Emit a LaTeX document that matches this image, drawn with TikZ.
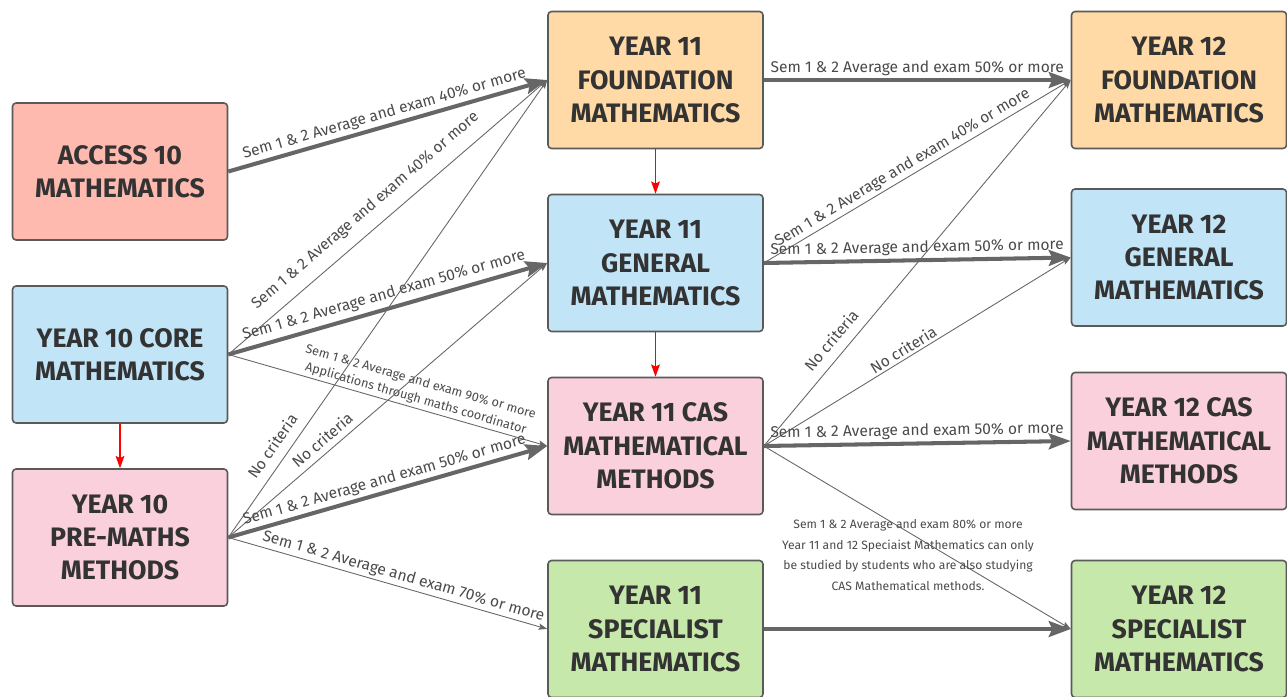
\documentclass[tikz,border=0pt]{standalone}
\usepackage{fontspec}
\setmainfont{Fira Sans}
\usepackage{tikz}
\usetikzlibrary{arrows.meta}
\usetikzlibrary{shapes,calc}
\definecolor{salmonF}{HTML}{FFBAB0}
\definecolor{orangeF}{HTML}{FFDAA6}
\definecolor{blueF}{HTML}{C1E4F6}
\definecolor{pinkF}{HTML}{FAD0DC}
\definecolor{greenF}{HTML}{C6E8AA}
\definecolor{boxLine}{HTML}{5A5A5A}
\definecolor{boxText}{HTML}{333333}
\definecolor{edgeGray}{HTML}{666666}
\definecolor{labText}{HTML}{4A4A4A}
\tikzstyle{box}=[rectangle, draw=boxLine, line width=0.9pt, rounded corners=2pt, minimum width=4.3cm, minimum height=2.74cm, inner sep=0pt, align=center, text=boxText, font=\fontsize{15.2}{19}\selectfont\bfseries]
\tikzstyle{salmonB}=[box, fill=salmonF]
\tikzstyle{orangeB}=[box, fill=orangeF]
\tikzstyle{blueB}=[box, fill=blueF]
\tikzstyle{pinkB}=[box, fill=pinkF]
\tikzstyle{greenB}=[box, fill=greenF]
\tikzstyle{edgeT}=[-{Stealth[length=12.5pt, width=9pt, inset=2pt]}, line width=2.3pt, draw=edgeGray]
\tikzstyle{edgeN}=[-{Stealth[length=5pt, width=3.6pt, inset=1pt]}, line width=0.5pt, draw=edgeGray]
\tikzstyle{edgeR}=[-{Stealth[length=7pt, width=5pt, inset=1.2pt]}, line width=0.7pt, draw=red]
\tikzstyle{lab}=[sloped, inner sep=1.5pt, text=labText, font=\fontsize{8.85}{10}\selectfont]
\tikzstyle{labS}=[lab, align=center, font=\fontsize{7.2}{9.8}\selectfont]

\begin{document}
\begin{tikzpicture}[x=0.02cm, y=-0.02cm]
      \useasboundingbox (0,0) rectangle (1287,696);
      % year 10
      \node(acc) [salmonB] at (120, 171.5){ACCESS 10\\MATHEMATICS};
      \node(core) [blueB] at (120, 354.5){YEAR 10 CORE\\MATHEMATICS};
      \node(pre) [pinkB] at (120, 537.5){YEAR 10\\PRE-MATHS\\METHODS};
      % year 11
      \node(f11) [orangeB] at (655.5, 80){YEAR 11\\FOUNDATION\\MATHEMATICS};
      \node(g11) [blueB] at (655.5, 263){YEAR 11\\GENERAL\\MATHEMATICS};
      \node(cas11) [pinkB] at (655.5, 446){YEAR 11 CAS\\MATHEMATICAL\\METHODS};
      \node(sp11) [greenB] at (655.5, 629){YEAR 11\\SPECIALIST\\MATHEMATICS};
      % year 12
      \node(f12) [orangeB] at (1179, 80){YEAR 12\\FOUNDATION\\MATHEMATICS};
      \node(g12) [blueB] at (1179, 257.5){YEAR 12\\GENERAL\\MATHEMATICS};
      \node(cas12) [pinkB] at (1179, 441){YEAR 12 CAS\\MATHEMATICAL\\METHODS};
      \node(sp12) [greenB] at (1179, 629){YEAR 12\\SPECIALIST\\MATHEMATICS};
      \draw[edgeR] (core) to (pre);
      \draw[edgeR] (f11) to (g11);
      \draw[edgeR] (g11) to (cas11);
      % year 10 to year 11
      \draw[edgeT] (acc.east) to node[lab, above, pos=0.5]{Sem 1 \& 2 Average and exam 40\% or more} (f11.west);
      \draw[edgeN] (core.east) to node[lab, above=5pt, pos=0.47]{Sem 1 \& 2 Average and exam 40\% or more} (f11.west);
      \draw[edgeT] (core.east) to node[lab, above=1pt, pos=0.5]{Sem 1 \& 2 Average and exam 50\% or more} (g11.west);
      \draw[edgeN] (core.east) to node[labS, above, pos=0.58]{Sem 1 \& 2 Average and exam 90\% or more\\Applications through maths coordinator} (cas11.west);
      \draw[edgeN] (pre.east) to node[lab, above=4pt, pos=0.18]{No criteria} (f11.west);
      \draw[edgeN] (pre.east) to node[lab, above=2pt, pos=0.32]{No criteria} (g11.west);
      \draw[edgeT] (pre.east) to node[lab, above, pos=0.5]{Sem 1 \& 2 Average and exam 50\% or more} (cas11.west);
      \draw[edgeN] (pre.east) to node[lab, above, pos=0.54]{Sem 1 \& 2 Average and exam 70\% or more} (sp11.west);
      % year 11 to year 12
      \draw[edgeT] (f11.east) to node[lab, above, pos=0.5]{Sem 1 \& 2 Average and exam 50\% or more} (f12.west);
      \draw[edgeN] (g11.east) to node[lab, above, pos=0.47]{Sem 1 \& 2 Average and exam 40\% or more} (f12.west);
      \draw[edgeT] (g11.east) to node[lab, above, pos=0.5]{Sem 1 \& 2 Average and exam 50\% or more} (g12.west);
      \draw[edgeN] (cas11.east) to node[lab, above=4pt, pos=0.26]{No criteria} (f12.west);
      \draw[edgeN] (cas11.east) to node[lab, above, pos=0.47]{No criteria} (g12.west);
      \draw[edgeT] (cas11.east) to node[lab, above, pos=0.5]{Sem 1 \& 2 Average and exam 50\% or more} (cas12.west);
      \draw[edgeN] (cas11.east) to node[pos=0.47, yshift=-0.46cm, align=center, text=labText, font=\fontsize{6.9}{11.9}\selectfont]{Sem 1 \& 2 Average and exam 80\% or more\\Year 11 and 12 Speciaist Mathematics can only\\be studied by students who are also studying\\CAS Mathematical methods.} (sp12.west);
      \draw[edgeT] (sp11.east) to (sp12.west);
    \end{tikzpicture}
\end{document}
